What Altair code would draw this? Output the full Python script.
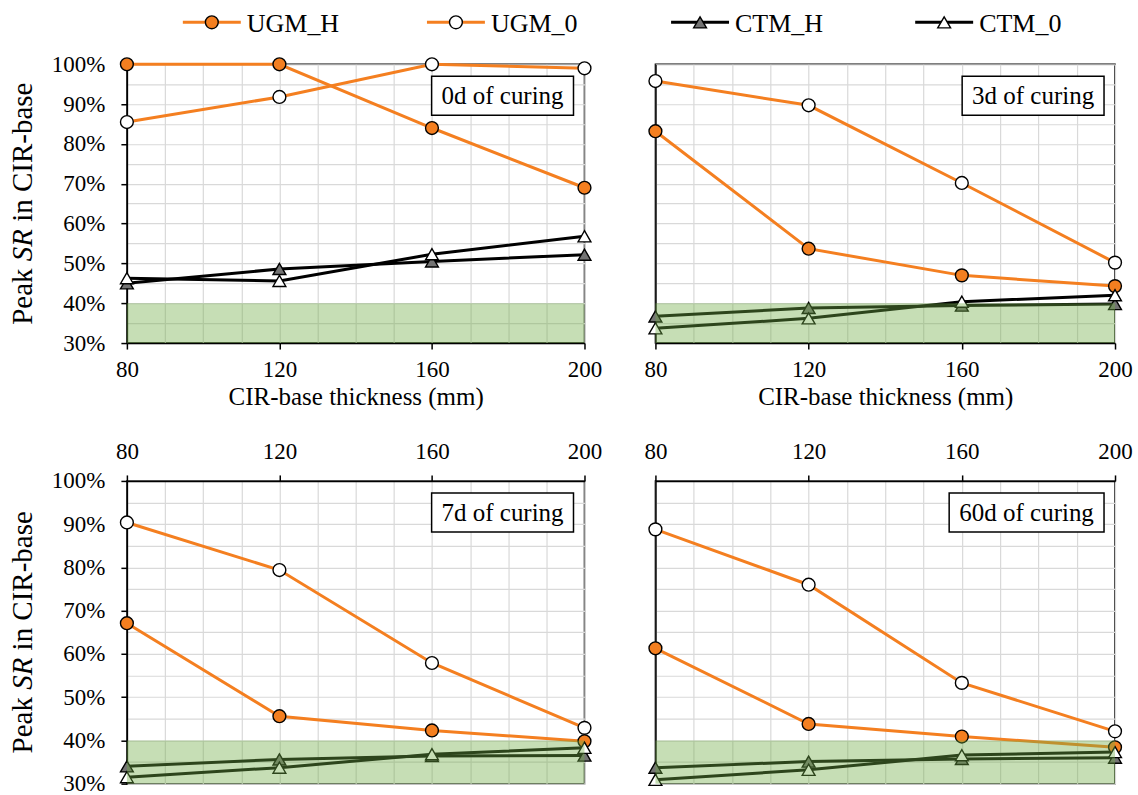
import altair as alt
import pandas as pd

FONT = "Liberation Serif"

# ---------------- data ----------------
thickness = [80, 120, 160, 200]
series_names = ["UGM_H", "UGM_0", "CTM_H", "CTM_0"]
panel_labels = ["0d of curing", "3d of curing", "7d of curing", "60d of curing"]

ugm_h_0d = [1.000, 1.000, 0.840, 0.690]
ugm_0_0d = [0.855, 0.918, 1.000, 0.990]
ctm_h_0d = [0.450, 0.486, 0.505, 0.522]
ctm_0_0d = [0.463, 0.456, 0.523, 0.568]

ugm_h_3d = [0.832, 0.537, 0.470, 0.443]
ugm_0_3d = [0.958, 0.897, 0.702, 0.502]
ctm_h_3d = [0.367, 0.388, 0.394, 0.398]
ctm_0_3d = [0.337, 0.362, 0.404, 0.420]

ugm_h_7d = [0.671, 0.456, 0.423, 0.398]
ugm_0_7d = [0.904, 0.794, 0.579, 0.429]
ctm_h_7d = [0.340, 0.356, 0.364, 0.365]
ctm_0_7d = [0.315, 0.337, 0.368, 0.383]

ugm_h_60d = [0.613, 0.438, 0.409, 0.384]
ugm_0_60d = [0.888, 0.760, 0.533, 0.421]
ctm_h_60d = [0.337, 0.351, 0.357, 0.360]
ctm_0_60d = [0.309, 0.332, 0.366, 0.373]

x_grid = [80, 90, 100, 110, 120, 130, 140, 150, 160, 170, 180, 190, 200]
y_grid = [0.30, 0.35, 0.40, 0.45, 0.50, 0.55, 0.60, 0.65, 0.70,
          0.75, 0.80, 0.85, 0.90, 0.95, 1.00]
band_low, band_high = 0.30, 0.40

panel_series = [
    [ugm_h_0d, ugm_0_0d, ctm_h_0d, ctm_0_0d],
    [ugm_h_3d, ugm_0_3d, ctm_h_3d, ctm_0_3d],
    [ugm_h_7d, ugm_0_7d, ctm_h_7d, ctm_0_7d],
    [ugm_h_60d, ugm_0_60d, ctm_h_60d, ctm_0_60d],
]

# ---------------- styles ----------------
ORANGE = "#F47F20"
GRAY = "#737373"
GREEN = "#70AD47"
GRID = "#d9d9d9"

line_scale = alt.Scale(domain=series_names, range=[ORANGE, ORANGE, "#000000", "#000000"])
fill_scale = alt.Scale(domain=series_names, range=[ORANGE, "#ffffff", GRAY, "#ffffff"])
shape_scale = alt.Scale(domain=series_names,
                        range=["circle", "circle", "triangle-up", "triangle-up"])
size_scale = alt.Scale(domain=series_names, range=[165, 165, 200, 200])
width_scale = alt.Scale(domain=series_names, range=[2.2, 2.2, 2.6, 2.6])

TITLE_FS = 29
LABEL_FS = 23


def make_panel(idx, width, height, x_top, y_labels, x_title, box_w):
    rows = []
    for s, vals in zip(series_names, panel_series[idx]):
        for t, v in zip(thickness, vals):
            rows.append({"thickness": t, "value": v, "series": s})
    df = pd.DataFrame(rows)

    x_axis = alt.Axis(
        values=x_grid, orient="top" if x_top else "bottom",
        labelExpr="(datum.value - 80) % 40 == 0 ? datum.value : ''",
        tickOpacity={"condition": {"test": "(datum.value - 80) % 40 == 0", "value": 1}, "value": 0},
        labelFlush=False, labelOverlap=False, grid=True, gridColor=GRID, gridWidth=1.2,
        tickSize=6, tickColor="#000000", tickWidth=1.5, domainColor="#000000", domainWidth=1.5,
        labelFontSize=LABEL_FS, labelColor="#000000", labelPadding=11 if x_top else 9,
        titleFontSize=25, titleFontWeight="normal", titleColor="#000000", titlePadding=4,
    )
    if y_labels:
        y_axis = alt.Axis(
            values=y_grid, format=".0%",
            labelExpr="round(datum.value * 100) % 10 == 0 ? format(datum.value, '.0%') : ''",
            tickOpacity={"condition": {"test": "round(datum.value * 100) % 10 == 0", "value": 1}, "value": 0},
            labelOverlap=False, labelFlush=False, grid=True, gridColor=GRID, gridWidth=1.2,
            tickSize=6, tickColor="#000000", tickWidth=1.5, domainColor="#000000", domainWidth=1.5,
            labelFontSize=LABEL_FS, labelColor="#000000", labelPadding=16,
        )
    else:
        y_axis = alt.Axis(
            values=y_grid, labels=False, ticks=False, grid=True, gridColor=GRID, gridWidth=1.2,
            domainColor="#000000", domainWidth=1.5,
        )

    x_enc = alt.X("thickness:Q", scale=alt.Scale(domain=[80, 200], nice=False, zero=False),
                  axis=x_axis, title=x_title if x_title else None)
    y_enc = alt.Y("value:Q", scale=alt.Scale(domain=[0.3, 1.0], nice=False, zero=False),
                  axis=y_axis, title=None)

    base = alt.Chart(df)
    lines = base.mark_line(clip=False).encode(
        x=x_enc, y=y_enc,
        stroke=alt.Stroke("series:N", scale=line_scale, legend=None),
        strokeWidth=alt.StrokeWidth("series:N", scale=width_scale, legend=None),
        detail="series:N",
    )
    points = base.mark_point(filled=True, opacity=1, stroke="#000000", strokeWidth=1.4).encode(
        x=x_enc, y=y_enc,
        fill=alt.Fill("series:N", scale=fill_scale, legend=None),
        shape=alt.Shape("series:N", scale=shape_scale, legend=None),
        size=alt.Size("series:N", scale=size_scale, legend=None),
    )
    band_df = pd.DataFrame({"thickness": [thickness[0]], "thickness2": [thickness[-1]],
                            "value": [band_low], "value2": [band_high]})
    band = alt.Chart(band_df).mark_rect(fill=GREEN, opacity=0.4).encode(
        x=x_enc, x2="thickness2", y=y_enc, y2="value2")

    lab_df = pd.DataFrame({"label": [panel_labels[idx]]})
    box = alt.Chart(lab_df).mark_rect(fill="#ffffff", stroke="#000000", strokeWidth=1.5).encode(
        x=alt.value(width - 11 - box_w), x2=alt.value(width - 11),
        y=alt.value(12), y2=alt.value(51))
    txt = alt.Chart(lab_df).mark_text(fontSize=25, font=FONT, color="#000000",
                                      align="center", baseline="middle").encode(
        x=alt.value(width - 11 - box_w / 2), y=alt.value(32), text="label:N")

    layers = [lines, points, band, box, txt]

    if y_labels:
        fs = TITLE_FS
        total = 8.36 * fs
        y_bottom = height / 2 + total / 2
        pieces = [("Peak", "normal", 0.0), ("SR", "italic", 2.194), ("in CIR-base", "normal", 3.555)]
        for word, style, off in pieces:
            layers.append(
                alt.Chart(lab_df).mark_text(fontSize=fs, font=FONT, fontStyle=style, color="#000000",
                                            angle=270, align="left", baseline="middle").encode(
                    x=alt.value(-104), y=alt.value(y_bottom - off * fs), text=alt.value(word))
            )

    return alt.layer(*layers).properties(
        width=width, height=height,
        view=alt.ViewBackground(stroke="#000000", strokeWidth=1.5),
    )


p1 = make_panel(0, 458, 279, False, True, "CIR-base thickness (mm)", 142)
p2 = make_panel(1, 460, 279, False, False, "CIR-base thickness (mm)", 142)
p3 = make_panel(2, 458, 303, True, True, "", 142)
p4 = make_panel(3, 460, 303, True, False, "", 155)

# ---------------- legend ----------------
leg_df = pd.DataFrame({"series": series_names})
leg_x = alt.X("series:N", sort=series_names, axis=None,
              scale=alt.Scale(type="point", range=[85, 818], padding=0))
leg_base = alt.Chart(leg_df)
leg_lines = leg_base.mark_rule(xOffset=-29, x2Offset=29).encode(
    x=leg_x, x2=alt.X2("series"), y=alt.value(18),
    stroke=alt.Stroke("series:N", scale=line_scale, legend=None),
    strokeWidth=alt.StrokeWidth("series:N",
                                scale=alt.Scale(domain=series_names, range=[3, 3, 3.6, 3.6]),
                                legend=None),
)
leg_pts = leg_base.mark_point(filled=True, opacity=1, stroke="#000000", strokeWidth=1.4).encode(
    x=leg_x, y=alt.value(18),
    fill=alt.Fill("series:N", scale=fill_scale, legend=None),
    shape=alt.Shape("series:N", scale=shape_scale, legend=None),
    size=alt.Size("series:N", scale=size_scale, legend=None),
)
leg_txt = leg_base.mark_text(align="left", baseline="middle", dx=35, fontSize=26, font=FONT,
                             color="#000000").encode(x=leg_x, y=alt.value(20), text="series:N")
legend = alt.layer(leg_lines, leg_pts, leg_txt).properties(
    width=1000, height=34, view=alt.ViewBackground(strokeWidth=0))

row1 = alt.hconcat(p1, p2, spacing=40)
row2 = alt.hconcat(p3, p4, spacing=40)

chart = alt.vconcat(
    alt.vconcat(legend, row1, spacing=14),
    row2,
    spacing=29,
).properties(
    padding={"left": 8, "top": 4, "right": 5, "bottom": 5},
    background="#ffffff",
).configure(font=FONT).configure_view(strokeWidth=0)

chart.save("out.html", embed_options={"renderer": "svg", "actions": False})
